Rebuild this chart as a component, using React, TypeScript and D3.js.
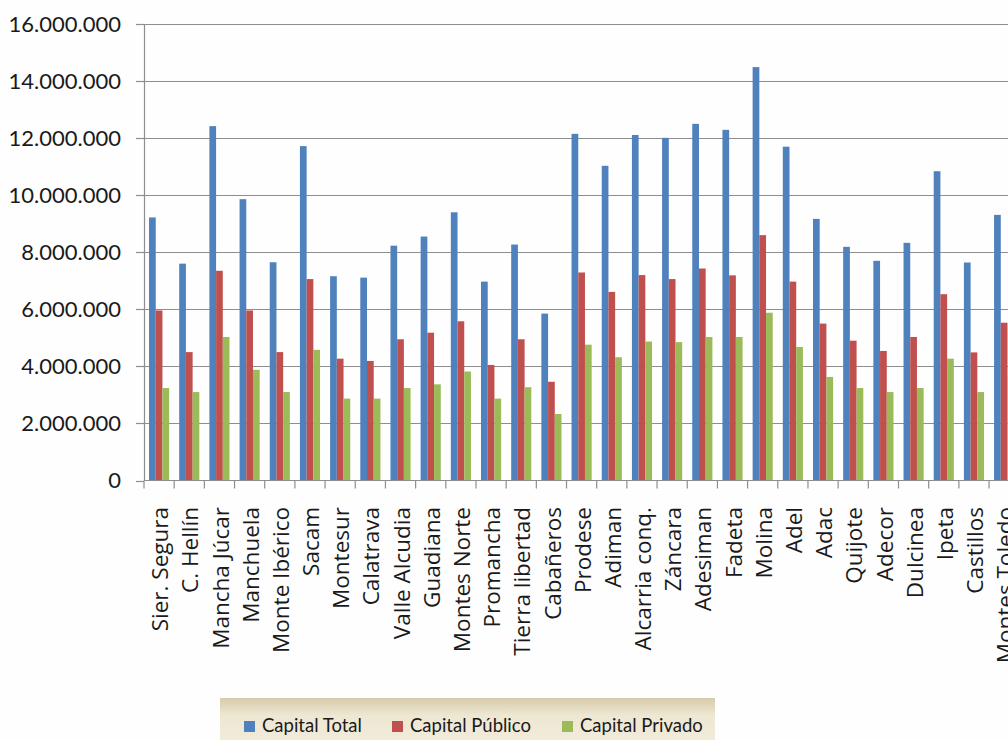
import { useEffect, useRef } from 'react';
import * as d3 from 'd3';

// Categories (grupos de desarrollo rural) and capital figures in euros
const categories = [
  'Sier. Segura', 'C. Hellín', 'Mancha Júcar', 'Manchuela', 'Monte Ibérico', 'Sacam',
  'Montesur', 'Calatrava', 'Valle Alcudia', 'Guadiana', 'Montes Norte', 'Promancha',
  'Tierra libertad', 'Cabañeros', 'Prodese', 'Adiman', 'Alcarria conq.', 'Záncara',
  'Adesiman', 'Fadeta', 'Molina', 'Adel', 'Adac', 'Quijote', 'Adecor', 'Dulcinea',
  'Ipeta', 'Castillos', 'Montes Toledo',
];

const capitalTotal = [
  9220000, 7600000, 12420000, 9860000, 7650000, 11720000, 7160000, 7110000, 8230000, 8550000,
  9400000, 6970000, 8270000, 5850000, 12150000, 11030000, 12110000, 12010000, 12500000, 12290000,
  14490000, 11700000, 9170000, 8190000, 7700000, 8330000, 10840000, 7640000, 9310000,
];

const capitalPublico = [
  5960000, 4500000, 7350000, 5960000, 4500000, 7060000, 4270000, 4190000, 4950000, 5180000,
  5580000, 4050000, 4950000, 3460000, 7290000, 6610000, 7200000, 7060000, 7430000, 7190000,
  8600000, 6970000, 5500000, 4900000, 4540000, 5030000, 6530000, 4490000, 5530000,
];

const capitalPrivado = [
  3240000, 3100000, 5030000, 3880000, 3100000, 4580000, 2870000, 2870000, 3240000, 3370000,
  3820000, 2870000, 3270000, 2330000, 4760000, 4320000, 4870000, 4850000, 5030000, 5030000,
  5880000, 4680000, 3630000, 3240000, 3100000, 3240000, 4270000, 3100000, 3700000,
];

const seriesNames = ['Capital Total', 'Capital Público', 'Capital Privado'];
const seriesColors = ['#4f81bd', '#c0504d', '#9bbb59'];
const yTicks = [0, 2000000, 4000000, 6000000, 8000000, 10000000, 12000000, 14000000, 16000000];

const FONT = 'Lato, "Open Sans", sans-serif';
const LABEL_FONT = '"Open Sans", Lato, sans-serif';

export default function App() {
  const svgRef = useRef<SVGSVGElement>(null);

  useEffect(() => {
    if (!svgRef.current) return;
    const svg = d3.select(svgRef.current);
    svg.selectAll('*').remove();

    const width = 1008;
    const height = 740;
    svg.attr('width', width).attr('height', height);

    const left = 144;
    const step = 30.18;
    const top = 24;
    const bottom = 480.5;

    const x = d3.scaleBand()
      .domain(categories)
      .range([left, left + step * categories.length])
      .padding(0);

    const y = d3.scaleLinear().domain([0, 16000000]).range([bottom, top]);

    // Excel-style gap width of 150%
    const barW = x.bandwidth() / 4.5;
    const x1 = d3.scaleBand()
      .domain(seriesNames)
      .range([x.bandwidth() * 0.75 / 4.5, x.bandwidth() * 0.75 / 4.5 + barW * 3])
      .padding(0);

    const locale = d3.formatLocale({ decimal: ',', thousands: '.', grouping: [3], currency: ['', '€'] });
    const fmt = locale.format(',');

    svg.append('rect').attr('width', width).attr('height', height).attr('fill', '#fefefe');

    // gridlines
    svg.append('g')
      .selectAll('line')
      .data(yTicks.filter(d => d > 0))
      .join('line')
      .attr('x1', left)
      .attr('x2', width)
      .attr('y1', d => Math.round(y(d)) + 0.5)
      .attr('y2', d => Math.round(y(d)) + 0.5)
      .attr('stroke', '#8e8e8e')
      .attr('stroke-width', 1.2);

    // bars
    const allSeries = [capitalTotal, capitalPublico, capitalPrivado];
    const g = svg.append('g');
    categories.forEach((cat, i) => {
      allSeries.forEach((vals, s) => {
        const v = vals[i];
        g.append('rect')
          .attr('x', (x(cat) ?? 0) + (x1(seriesNames[s]) ?? 0))
          .attr('y', y(v))
          .attr('width', barW)
          .attr('height', y(0) - y(v))
          .attr('fill', seriesColors[s]);
      });
    });

    // y axis
    const yAxis = svg.append('g');
    yAxis.append('line')
      .attr('x1', left + 0.5).attr('x2', left + 0.5)
      .attr('y1', top).attr('y2', bottom)
      .attr('stroke', '#8e8e8e').attr('stroke-width', 1.2);
    yAxis.selectAll('line.tick')
      .data(yTicks)
      .join('line')
      .attr('class', 'tick')
      .attr('x1', left - 8).attr('x2', left)
      .attr('y1', d => Math.round(y(d)) + 0.5)
      .attr('y2', d => Math.round(y(d)) + 0.5)
      .attr('stroke', '#8e8e8e').attr('stroke-width', 1.2);
    yAxis.selectAll('text')
      .data(yTicks)
      .join('text')
      .attr('x', 121)
      .attr('y', d => y(d))
      .attr('dy', '0.36em')
      .attr('text-anchor', 'end')
      .attr('font-family', FONT)
      .attr('font-size', 22)
      .attr('fill', '#1a1a1a')
      .text(d => fmt(d));

    // x axis
    const xAxis = svg.append('g');
    xAxis.append('line')
      .attr('x1', left).attr('x2', width)
      .attr('y1', bottom).attr('y2', bottom)
      .attr('stroke', '#8e8e8e').attr('stroke-width', 1.2);
    xAxis.selectAll('line.tick')
      .data(d3.range(categories.length + 1))
      .join('line')
      .attr('class', 'tick')
      .attr('x1', d => left + d * step)
      .attr('x2', d => left + d * step)
      .attr('y1', bottom).attr('y2', bottom + 8)
      .attr('stroke', '#8e8e8e').attr('stroke-width', 1.2);
    xAxis.selectAll('text')
      .data(categories)
      .join('text')
      .attr('transform', d => `translate(${(x(d) ?? 0) + x.bandwidth() / 2 + 1},507) rotate(-90)`)
      .attr('dy', '0.36em')
      .attr('text-anchor', 'end')
      .attr('font-family', LABEL_FONT)
      .attr('font-size', 22.5)
      .attr('fill', '#1a1a1a')
      .text(d => d);

    // legend
    const defs = svg.append('defs');
    const grad = defs.append('linearGradient').attr('id', 'legBg').attr('x1', 0).attr('x2', 0).attr('y1', 0).attr('y2', 1);
    grad.append('stop').attr('offset', '0%').attr('stop-color', '#d6cbab');
    grad.append('stop').attr('offset', '35%').attr('stop-color', '#eee7d3');
    grad.append('stop').attr('offset', '100%').attr('stop-color', '#f2ecdc');

    const leg = svg.append('g');
    leg.append('rect')
      .attr('x', 220).attr('y', 698)
      .attr('width', 495).attr('height', 50)
      .attr('fill', 'url(#legBg)');
    const legX = [244, 392, 562];
    seriesNames.forEach((name, i) => {
      leg.append('rect')
        .attr('x', legX[i]).attr('y', 721)
        .attr('width', 11).attr('height', 11)
        .attr('fill', seriesColors[i]);
      leg.append('text')
        .attr('x', legX[i] + 18).attr('y', 732)
        .attr('font-family', FONT)
        .attr('font-size', 18.5)
        .attr('fill', '#1a1a1a')
        .text(name);
    });
  }, []);

  return (
    <div style={{ position: 'absolute', left: 0, top: 0, width: 1008, height: 740, overflow: 'hidden' }}>
      <svg ref={svgRef} style={{ display: 'block' }} />
    </div>
  );
}
